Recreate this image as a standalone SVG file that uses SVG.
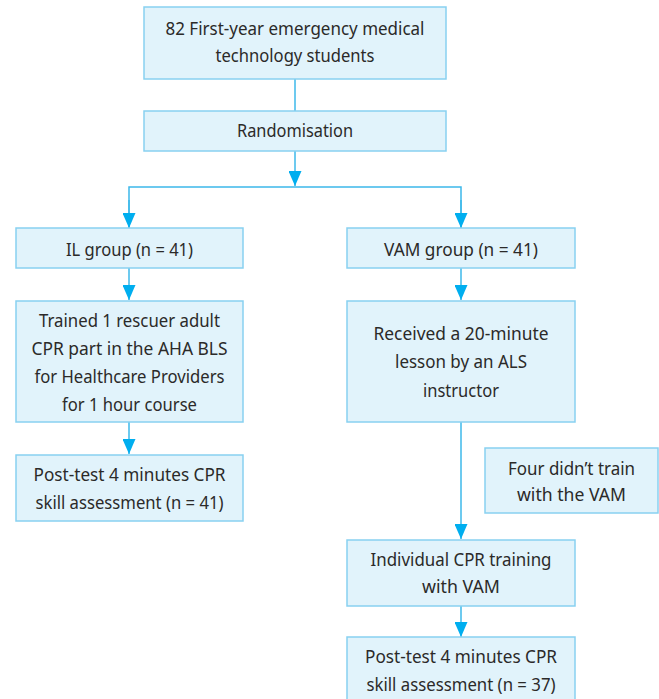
<svg xmlns="http://www.w3.org/2000/svg" width="659" height="699" viewBox="0 0 659 699">
<style>
.box{fill:#E1F3FB;stroke:#88D1F1;stroke-width:1.5}
.t{font-family:"Noto Sans","Open Sans",sans-serif;font-size:18px;fill:#2B2A29;text-anchor:middle}
.c{fill:none;stroke:#3DB8EA;stroke-width:1.5}
</style>
<defs>
<marker id="ah" markerUnits="userSpaceOnUse" markerWidth="16" markerHeight="13" refX="15" refY="6.5" orient="auto">
<path d="M0,0 L15,6.5 L0,13 z" fill="#00AEEF"/>
</marker>
</defs>
<rect width="659" height="699" fill="#FFFFFF"/>
<g id="connectors">
<path class="c" d="M295,79 V111"/>
<path class="c" d="M295,151 V186" marker-end="url(#ah)"/>
<path class="c" d="M129,228 V187 H461 V228" />
<path class="c" d="M129,200 V228" marker-end="url(#ah)"/>
<path class="c" d="M461,200 V228" marker-end="url(#ah)"/>
<path class="c" d="M129,268 V300" marker-end="url(#ah)"/>
<path class="c" d="M461,268 V300" marker-end="url(#ah)"/>
<path class="c" d="M129,422 V454" marker-end="url(#ah)"/>
<path class="c" d="M461,422 V539" marker-end="url(#ah)"/>
<path class="c" d="M461,606 V637" marker-end="url(#ah)"/>
</g>
<g id="n1">
<rect class="box" x="144" y="7" width="302" height="72"/>
<text class="t" x="295" y="35" textLength="259" lengthAdjust="spacingAndGlyphs">82 First-year emergency medical</text>
<text class="t" x="295" y="62" textLength="159" lengthAdjust="spacingAndGlyphs">technology students</text>
</g>
<g id="n2">
<rect class="box" x="144" y="111" width="302" height="40"/>
<text class="t" x="295" y="137" textLength="116" lengthAdjust="spacingAndGlyphs">Randomisation</text>
</g>
<g id="n3">
<rect class="box" x="16" y="228" width="227" height="40"/>
<text class="t" x="129.5" y="256" textLength="127" lengthAdjust="spacingAndGlyphs">IL group (n = 41)</text>
</g>
<g id="n4">
<rect class="box" x="347" y="228" width="228" height="40"/>
<text class="t" x="461" y="256" textLength="154" lengthAdjust="spacingAndGlyphs">VAM group (n = 41)</text>
</g>
<g id="n5">
<rect class="box" x="16" y="301" width="227" height="121"/>
<text class="t" x="129.5" y="327" textLength="181" lengthAdjust="spacingAndGlyphs">Trained 1 rescuer adult</text>
<text class="t" x="129.5" y="355" textLength="196" lengthAdjust="spacingAndGlyphs">CPR part in the AHA BLS</text>
<text class="t" x="129.5" y="383" textLength="190" lengthAdjust="spacingAndGlyphs">for Healthcare Providers</text>
<text class="t" x="129.5" y="411" textLength="135" lengthAdjust="spacingAndGlyphs">for 1 hour course</text>
</g>
<g id="n6">
<rect class="box" x="16" y="455" width="227" height="66"/>
<text class="t" x="129.5" y="481" textLength="192" lengthAdjust="spacingAndGlyphs">Post-test 4 minutes CPR</text>
<text class="t" x="129.5" y="509" textLength="188" lengthAdjust="spacingAndGlyphs">skill assessment (n = 41)</text>
</g>
<g id="n7">
<rect class="box" x="347" y="301" width="228" height="121"/>
<text class="t" x="461" y="340" textLength="175" lengthAdjust="spacingAndGlyphs">Received a 20-minute</text>
<text class="t" x="461" y="368" textLength="132" lengthAdjust="spacingAndGlyphs">lesson by an ALS</text>
<text class="t" x="461" y="397" textLength="76" lengthAdjust="spacingAndGlyphs">instructor</text>
</g>
<g id="n8">
<rect class="box" x="485" y="448" width="173" height="65"/>
<text class="t" x="571.5" y="475" textLength="127" lengthAdjust="spacingAndGlyphs">Four didn’t train</text>
<text class="t" x="571.5" y="501" textLength="109" lengthAdjust="spacingAndGlyphs">with the VAM</text>
</g>
<g id="n9">
<rect class="box" x="347" y="540" width="228" height="66"/>
<text class="t" x="461" y="566" textLength="181" lengthAdjust="spacingAndGlyphs">Individual CPR training</text>
<text class="t" x="461" y="593" textLength="78" lengthAdjust="spacingAndGlyphs">with VAM</text>
</g>
<g id="n10">
<rect class="box" x="347" y="637" width="228" height="70"/>
<text class="t" x="461" y="663" textLength="192" lengthAdjust="spacingAndGlyphs">Post-test 4 minutes CPR</text>
<text class="t" x="461" y="691" textLength="189" lengthAdjust="spacingAndGlyphs">skill assessment (n = 37)</text>
</g>
</svg>
